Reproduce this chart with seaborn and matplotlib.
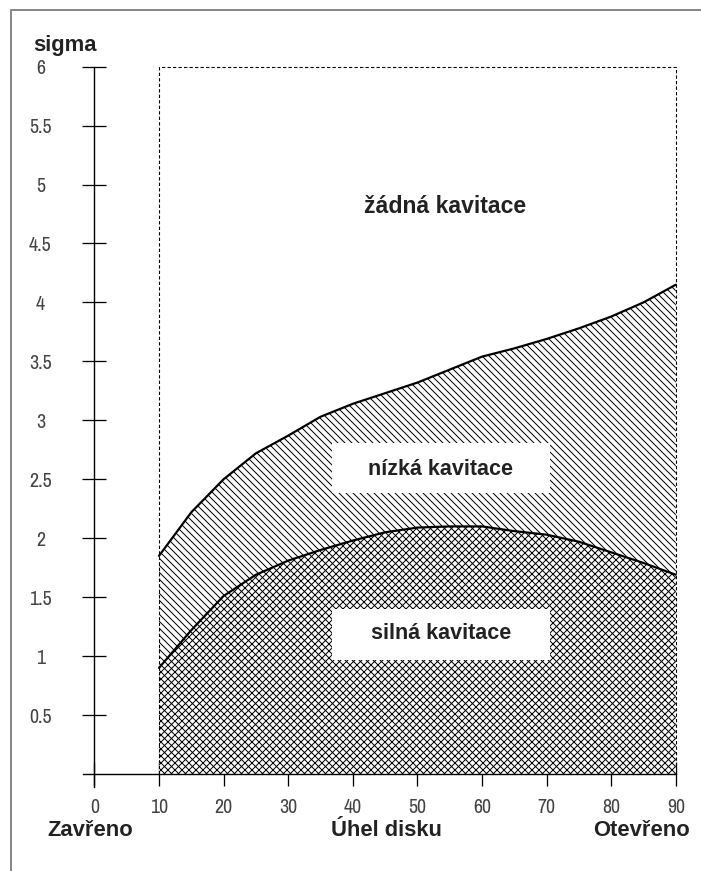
import numpy as np
import pandas as pd
import seaborn as sns
import matplotlib.pyplot as plt
from matplotlib.patches import Rectangle
from matplotlib.lines import Line2D

# disc angle (deg) and cavitation limits (sigma)
angle = [10, 15, 20, 25, 30, 35, 40, 45, 50, 55, 60, 65, 70, 75, 80, 85, 90]
sigma_low = [1.85, 2.22, 2.50, 2.72, 2.87, 3.03, 3.14, 3.23, 3.32, 3.43, 3.54,
             3.61, 3.69, 3.78, 3.88, 4.00, 4.15]
sigma_strong = [0.90, 1.22, 1.51, 1.69, 1.81, 1.90, 1.98, 2.05, 2.09, 2.10, 2.10,
                2.06, 2.03, 1.97, 1.88, 1.79, 1.69]

xticks = [0, 10, 20, 30, 40, 50, 60, 70, 80, 90]
yticks = [0.5, 1, 1.5, 2, 2.5, 3, 3.5, 4, 4.5, 5, 5.5, 6]
ytick_labels = ['0.5', '1', '1.5', '2', '2.5', '3', '3.5', '4', '4.5', '5', '5.5', '6']

df = pd.DataFrame({'angle': angle, 'low': sigma_low, 'strong': sigma_strong})

DPI = 84
W, H = 701, 871
def pt(px):
    return px * 72 / DPI

sns.set_style('white')
plt.rcParams['font.family'] = ['Liberation Sans', 'DejaVu Sans']
plt.rcParams['hatch.linewidth'] = pt(1.0)

fig = plt.figure(figsize=(W / DPI, H / DPI), dpi=DPI)
# axes placed so that x=0 -> 94px, x=90 -> 676px, y=0 -> 774px, y=6 -> 67px
x0, sx = 94.4, 6.46
y0, sy = 774.0, 117.9
xlim = (-2, 92)
ylim = (-0.15, 6.1)
left = x0 + sx * xlim[0]
right = x0 + sx * xlim[1]
bottom = y0 - sy * ylim[0]
top = y0 - sy * ylim[1]
ax = fig.add_axes([left / W, 1 - bottom / H, (right - left) / W, (bottom - top) / H])
ax.set_xlim(*xlim)
ax.set_ylim(*ylim)
ax.patch.set_alpha(0)

# hatched regions
ax.fill_between(df['angle'], 0, df['strong'], facecolor='white', edgecolor='black',
                hatch='xxxx', linewidth=0, zorder=1)
ax.fill_between(df['angle'], df['strong'], df['low'], facecolor='white', edgecolor='black',
                hatch='\\\\\\\\', linewidth=0, zorder=1)

sns.lineplot(data=df, x='angle', y='low', color='black', lw=pt(2.2), ax=ax, zorder=3)
sns.lineplot(data=df, x='angle', y='strong', color='black', lw=pt(2.2), ax=ax, zorder=3)

# dashed frame of the operating range
ax.plot([10, 10, 90, 90], [0, 6, 6, 0], color='black', lw=pt(1.1),
        ls=(0, (3, 2)), zorder=4)

# label boxes
for yb in (2.38, 0.97):
    ax.add_patch(Rectangle((36.8, yb), 33.7, 0.43, facecolor='white',
                           edgecolor='none', zorder=2))

lab_kw = dict(ha='center', va='center', fontweight='bold', color='#222222', zorder=5)
ax.text(54.3, 4.81, 'žádná kavitace', fontsize=pt(23), **lab_kw)
ax.text(53.6, 2.58, 'nízká kavitace', fontsize=pt(21.5), **lab_kw)
ax.text(53.6, 1.19, 'silná kavitace', fontsize=pt(21.5), **lab_kw)

# axes spines through the origin
for s in ('top', 'right'):
    ax.spines[s].set_visible(False)
ax.spines['left'].set_position(('data', 0))
ax.spines['bottom'].set_position(('data', 0))
ax.spines['left'].set_bounds(-0.11, 6)
ax.spines['bottom'].set_bounds(-1.7, 90)
for s in ('left', 'bottom'):
    ax.spines[s].set_linewidth(pt(1.4))
    ax.spines[s].set_color('black')
    ax.spines[s].set_zorder(6)

ax.set_xticks(xticks)
ax.set_xticklabels([str(v) for v in xticks])
ax.set_yticks(yticks)
ax.set_yticklabels(ytick_labels)
ax.tick_params(axis='both', direction='inout', length=pt(24), width=pt(1.3),
               colors='black', labelcolor='#444444', labelsize=pt(20),
               bottom=True, left=True)
ax.tick_params(axis='x', pad=pt(12))
ax.tick_params(axis='y', pad=pt(42))
for lbl in ax.get_yticklabels():
    lbl.set_ha('center')
for lbl in ax.get_xticklabels() + ax.get_yticklabels():
    lbl.set_family(['Archivo Narrow', 'Liberation Sans', 'DejaVu Sans'])
ax.set_xlabel('')
ax.set_ylabel('')

# outer texts
bold_kw = dict(fontsize=pt(22), fontweight='bold', color='#222222', va='center')
fig.text(33 / W, 1 - 45 / H, 'sigma', ha='left', **bold_kw)
fig.text(47 / W, 1 - 831 / H, 'Zavřeno', ha='left', **bold_kw)
fig.text(386 / W, 1 - 831 / H, 'Úhel disku', ha='center', **bold_kw)
fig.text(690 / W, 1 - 831 / H, 'Otevřeno', ha='right', **bold_kw)

# grey page border (top and left)
fig.add_artist(Line2D([11 / W, 11 / W, 1], [0, 1 - 9.5 / H, 1 - 9.5 / H],
                      transform=fig.transFigure, color='#888888', lw=pt(2)))

fig.savefig('out.png', dpi=DPI)
